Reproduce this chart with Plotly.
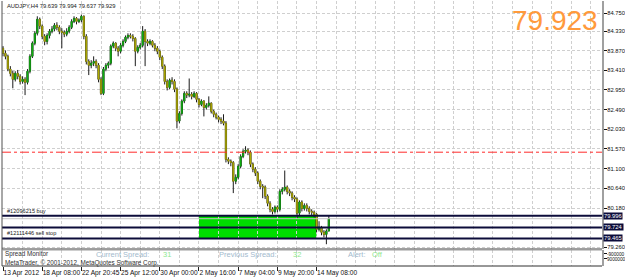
import plotly.graph_objects as go

# ---------------- data ----------------
opens = [83.93, 83.81, 83.74, 83.44, 83.34, 83.20, 83.34, 83.27, 83.15, 83.20,
         83.13, 83.39, 83.74, 84.05, 84.28, 84.61, 84.45, 84.21, 84.09, 84.23,
         84.33, 84.38, 84.47, 84.42, 84.33, 84.30, 84.26, 84.33, 84.42, 84.56,
         84.63, 84.56, 84.59, 84.68, 84.21, 83.62, 83.53, 83.58, 83.62, 83.53,
         83.20, 82.87, 83.44, 83.53, 83.58, 83.98, 84.05, 83.93, 83.86, 84.00,
         84.09, 84.19, 84.23, 84.21, 84.16, 83.86, 83.95, 84.00, 84.33, 84.09,
         84.05, 84.09, 84.00, 83.93, 83.86, 83.72, 83.51, 83.15, 83.01, 83.18,
         83.15, 82.97, 82.22, 82.40, 82.69, 82.87, 82.83, 82.85, 82.80, 82.87,
         82.73, 82.61, 82.69, 82.54, 82.59, 82.64, 82.45, 82.38, 82.31, 82.26,
         82.22, 82.17, 81.32, 81.28, 81.25, 80.81, 80.90, 81.16, 81.39, 81.51,
         81.54, 81.49, 81.21, 81.09, 81.00, 80.81, 80.69, 80.67, 80.46, 80.29,
         80.15, 80.10, 80.20, 80.15, 80.57, 80.62, 80.67, 80.57, 80.53, 80.43,
         80.39, 80.06, 80.32, 80.17, 80.24, 80.17, 80.10, 80.08, 80.03, 79.68,
         79.73, 79.61, 79.56, 79.639]
highs = [83.98, 83.88, 83.78, 83.51, 83.40, 83.39, 83.42, 83.32, 83.27, 83.25,
         83.44, 83.79, 84.09, 84.33, 84.68, 84.65, 84.49, 84.26, 84.28, 84.38,
         84.45, 84.52, 84.54, 84.47, 84.40, 84.35, 84.40, 84.47, 84.61, 84.68,
         84.66, 84.63, 84.72, 84.70, 84.26, 83.67, 83.65, 83.74, 83.67, 83.58,
         83.25, 83.49, 83.58, 83.62, 84.02, 84.09, 84.07, 83.98, 84.05, 84.14,
         84.23, 84.28, 84.28, 84.26, 84.19, 84.00, 84.05, 84.45, 84.38, 84.14,
         84.14, 84.12, 84.05, 83.98, 83.90, 83.76, 83.55, 83.20, 83.22, 83.25,
         83.20, 83.01, 82.45, 82.73, 82.92, 82.92, 83.22, 82.90, 82.92, 82.90,
         82.76, 82.73, 82.71, 82.64, 82.80, 82.66, 82.49, 82.42, 82.35, 82.31,
         82.38, 82.22, 81.37, 81.32, 81.28, 80.97, 81.21, 81.44, 81.56, 81.63,
         81.58, 81.53, 81.25, 81.14, 81.04, 80.85, 80.74, 80.71, 80.50, 80.34,
         80.20, 80.24, 80.24, 80.62, 80.67, 81.06, 80.71, 80.62, 80.57, 80.48,
         80.43, 80.36, 80.36, 80.29, 80.29, 80.22, 80.15, 80.12, 80.06, 79.87,
         79.76, 79.66, 79.68, 79.994]
lows = [83.74, 83.67, 83.39, 83.27, 82.99, 83.15, 83.20, 83.08, 83.10, 82.83,
        83.08, 83.34, 83.70, 84.00, 84.23, 84.38, 84.14, 84.00, 84.02, 84.16,
        84.28, 84.33, 84.35, 84.26, 83.93, 84.19, 84.21, 84.28, 84.38, 84.52,
        84.49, 84.52, 84.54, 84.14, 83.55, 83.30, 83.46, 83.51, 83.46, 83.13,
        82.83, 82.83, 83.39, 83.46, 83.53, 83.93, 83.86, 83.74, 83.81, 83.95,
        84.05, 84.14, 84.16, 84.09, 83.51, 83.81, 83.90, 83.95, 83.51, 83.98,
        84.00, 83.95, 83.86, 83.79, 83.65, 83.44, 83.08, 82.94, 82.97, 83.08,
        82.90, 82.05, 82.17, 82.35, 82.64, 82.76, 82.78, 82.73, 82.76, 82.66,
        82.54, 82.57, 82.33, 82.49, 82.54, 82.40, 82.31, 82.26, 82.19, 82.15,
        82.12, 81.25, 81.21, 81.16, 80.53, 80.74, 80.85, 81.11, 81.35, 81.46,
        81.42, 81.14, 81.02, 80.93, 80.74, 80.62, 80.41, 80.39, 80.22, 80.08,
        80.03, 80.05, 80.08, 80.10, 80.50, 80.57, 80.50, 80.46, 80.36, 80.32,
        79.94, 80.01, 80.10, 80.12, 80.10, 80.03, 80.01, 79.96, 79.61, 79.63,
        79.54, 79.49, 79.33, 79.637]
closes = [83.81, 83.74, 83.44, 83.34, 83.20, 83.34, 83.27, 83.15, 83.20, 83.13,
          83.39, 83.74, 84.05, 84.28, 84.61, 84.45, 84.21, 84.09, 84.23, 84.33,
          84.38, 84.47, 84.42, 84.33, 84.30, 84.26, 84.33, 84.42, 84.56, 84.63,
          84.56, 84.59, 84.68, 84.21, 83.62, 83.53, 83.58, 83.62, 83.53, 83.20,
          82.87, 83.44, 83.53, 83.58, 83.98, 84.05, 83.93, 83.86, 84.00, 84.09,
          84.19, 84.23, 84.21, 84.16, 83.86, 83.95, 84.00, 84.33, 84.09, 84.05,
          84.09, 84.00, 83.93, 83.86, 83.72, 83.51, 83.15, 83.01, 83.18, 83.15,
          82.97, 82.22, 82.40, 82.69, 82.87, 82.83, 82.85, 82.80, 82.87, 82.73,
          82.61, 82.69, 82.54, 82.59, 82.64, 82.45, 82.38, 82.31, 82.26, 82.22,
          82.17, 81.32, 81.28, 81.25, 80.81, 80.90, 81.16, 81.39, 81.51, 81.54,
          81.49, 81.21, 81.09, 81.00, 80.81, 80.69, 80.67, 80.46, 80.29, 80.15,
          80.10, 80.20, 80.15, 80.57, 80.62, 80.67, 80.57, 80.53, 80.43, 80.39,
          80.06, 80.32, 80.17, 80.24, 80.17, 80.10, 80.08, 80.03, 79.68, 79.73,
          79.61, 79.56, 79.639, 79.929]

time_tick_bars = [0, 16, 32, 48, 64, 80, 96, 112, 128]
time_tick_labels = ["13 Apr 2012", "18 Apr 08:00", "22 Apr 20:45", "25 Apr 12:00",
                    "30 Apr 00:00", "2 May 16:00", "7 May 04:00", "9 May 20:00",
                    "14 May 08:00"]
price_tick_vals = [84.75, 84.33, 83.87, 83.41, 82.95, 82.49, 82.03, 81.57,
                   81.10, 80.64, 80.18, 79.26]
price_tick_labels = ["84.750", "84.330", "83.870", "83.410", "82.950", "82.490",
                     "82.030", "81.570", "81.100", "80.640", "80.180", "79.260"]
order_levels = [79.996, 79.724, 79.465]
order_level_labels = ["79.996", "79.724", "79.465"]
order_names = ["#12096215 buy", "", "#12111446 sell stop"]
bid_price = 79.929
red_level = 81.49
zone_bars = [80, 128]
zone_prices = [79.465, 79.996]
header_text = "AUDJPY,H4 79.639 79.994 79.637 79.929"
big_price = "79.923"
spread_current = "31"
spread_previous = "32"
alert_state = "Off"
ind_tick_vals = [0.75, 0.44]
ind_tick_labels = ["-900000", "9000000"]

# ---------------- styling ----------------
FONT = "Liberation Sans, Arial"
GRID = "#CFCFCF"
NAVY = "#0C0C3A"
BULL = "#10B010"
BEAR = "#B0AC00"
WICK = "#1A1A1A"

idx = list(range(len(closes)))
body_hi = [max(o, c) for o, c in zip(opens, closes)]
body_lo = [min(o, c) for o, c in zip(opens, closes)]

fig = go.Figure()
fig.add_trace(go.Candlestick(
    x=idx, open=opens, high=highs, low=lows, close=closes,
    xaxis="x2", yaxis="y", whiskerwidth=0,
    increasing=dict(line=dict(color=WICK, width=1), fillcolor=WICK),
    decreasing=dict(line=dict(color=WICK, width=1), fillcolor=WICK),
    showlegend=False, hoverinfo="skip"))
fig.add_trace(go.Candlestick(
    x=idx, open=opens, high=body_hi, low=body_lo, close=closes,
    xaxis="x2", yaxis="y", whiskerwidth=0,
    increasing=dict(line=dict(color=BULL, width=0.5), fillcolor=BULL),
    decreasing=dict(line=dict(color=BEAR, width=0.5), fillcolor=BEAR),
    showlegend=False, hoverinfo="skip"))
# invisible anchor trace for the indicator sub-window
fig.add_trace(go.Scatter(x=[idx[0]], y=[ind_tick_vals[0]], xaxis="x", yaxis="y2",
                         mode="markers", marker=dict(opacity=0), showlegend=False,
                         hoverinfo="skip"))

XR = [-0.41, 244.5]
grid_minor = dict(tick0=0, dtick=8, showgrid=True, gridcolor=GRID, griddash="3px,2px",
                  gridwidth=1, ticks="")

fig.update_layout(
    width=625, height=277, autosize=False,
    margin=dict(l=2, r=23, t=0, b=10),
    paper_bgcolor="white", plot_bgcolor="white", showlegend=False,
    xaxis=dict(domain=[0, 1], anchor="y2", range=XR, tickmode="array",
               tickvals=time_tick_bars, ticktext=time_tick_labels, tickangle=0,
               ticks="outside", ticklen=4, tickcolor="#202020", tickwidth=1,
               ticklabelposition="outside right", automargin=False,
               tickfont=dict(family=FONT, size=6.6, color="#101010"),
               showgrid=True, gridcolor=GRID, griddash="3px,2px", gridwidth=1,
               minor=grid_minor, zeroline=False, showline=False,
               rangeslider=dict(visible=False), fixedrange=True),
    xaxis2=dict(domain=[0, 1], anchor="y", range=XR, matches="x",
                showticklabels=False, ticks="", automargin=False,
                showgrid=True, gridcolor=GRID, griddash="3px,2px", gridwidth=1,
                tickmode="array", tickvals=time_tick_bars,
                minor=grid_minor, zeroline=False, showline=False,
                rangeslider=dict(visible=False)),
    yaxis=dict(domain=[0.0674, 0.9963], anchor="x2", side="right",
               range=[79.218, 85.039], tickmode="array", automargin=False,
               tickvals=price_tick_vals, ticktext=price_tick_labels,
               ticks="outside", ticklen=3, tickcolor="#101010",
               ticklabelstandoff=-1,
               tickfont=dict(family=FONT, size=5.8, color="#101010"),
               showgrid=True, gridcolor=GRID, griddash="3px,2px", gridwidth=1,
               zeroline=False, showline=True, linecolor="#A0A0A0", linewidth=2),
    yaxis2=dict(domain=[0.0037, 0.0637], anchor="x", side="right", range=[0, 1],
                tickmode="array", tickvals=ind_tick_vals, ticktext=ind_tick_labels,
                ticks="outside", ticklen=3, tickcolor="#101010", automargin=False,
                ticklabelstandoff=-1,
                tickfont=dict(family=FONT, size=4.7, color="#101010"),
                showgrid=False, zeroline=False, showline=True,
                linecolor="#A0A0A0", linewidth=2),
)

shapes = []
# green zone
shapes.append(dict(type="rect", xref="x2", yref="y", x0=zone_bars[0], x1=zone_bars[1],
                   y0=zone_prices[0], y1=zone_prices[1], fillcolor="#00DD00",
                   line=dict(width=0), layer="below"))
# red dash-dot level
shapes.append(dict(type="line", xref="paper", yref="y", x0=0, x1=1,
                   y0=red_level, y1=red_level,
                   line=dict(color="#FF2A2A", width=1, dash="dashdot")))
# bid line
shapes.append(dict(type="line", xref="paper", yref="y", x0=0, x1=1,
                   y0=bid_price, y1=bid_price, line=dict(color="#C4C4C4", width=1)))
# order lines
for lv in order_levels:
    shapes.append(dict(type="line", xref="paper", yref="y", x0=0, x1=1, y0=lv, y1=lv,
                       line=dict(color=NAVY, width=2)))
# window borders
shapes.append(dict(type="line", xref="paper", yref="paper", x0=0, x1=0,
                   y0=0.0037, y1=0.9963, line=dict(color="#505050", width=1)))
shapes.append(dict(type="line", xref="paper", yref="paper", x0=0, x1=1,
                   y0=0.0674, y1=0.0674, line=dict(color="#404040", width=1)))
shapes.append(dict(type="line", xref="paper", yref="paper", x0=0, x1=1,
                   y0=0.0637, y1=0.0637, line=dict(color="#9A9A9A", width=1)))
shapes.append(dict(type="line", xref="paper", yref="paper", x0=0, x1=1,
                   y0=0.0037, y1=0.0037, line=dict(color="#303030", width=1)))
fig.update_layout(shapes=shapes)

ann = []
ann.append(dict(text=header_text, xref="paper", yref="paper", x=0.005, y=0.9757,
                xanchor="left", yanchor="middle", showarrow=False,
                font=dict(family=FONT, size=5.8, color="#202020")))
ann.append(dict(text=big_price, xref="paper", yref="paper", x=0.997, y=0.925,
                xanchor="right", yanchor="middle", showarrow=False,
                font=dict(family=FONT, size=28, color="#FF9A3C")))
for lv, lab, nm in zip(order_levels, order_level_labels, order_names):
    ann.append(dict(text=lab, xref="paper", yref="y", x=1.0, y=lv, xanchor="left",
                    yanchor="middle", xshift=1, showarrow=False, bgcolor=NAVY,
                    borderpad=0, font=dict(family=FONT, size=5.8, color="white")))
    if nm:
        ann.append(dict(text=nm, xref="paper", yref="y", x=0.005, y=lv,
                        xanchor="left", yanchor="bottom", yshift=0, showarrow=False,
                        font=dict(family=FONT, size=5.6, color="#202020")))

def px2x(px):
    return (px - 2) / 600.0

def py2y(py):
    return (267 - py) / 267.0

sub = [
    ("Spread Monitor", 3, 253.5, 6.3, "#303030"),
    ("MetaTrader, \u00a9 2001-2012, MetaQuotes Software Corp.", 3, 263, 6.3, "#303030"),
    ("Current Spread:", 94, 254.3, 7.5, "#A3BACD"),
    (spread_current, 161, 254.3, 7.5, "#8EE88E"),
    ("Previous Spread:", 217, 254.3, 7.5, "#A3BACD"),
    (spread_previous, 291, 254.3, 7.5, "#8EE88E"),
    ("Alert:", 346, 254.3, 7.5, "#A3BACD"),
    (alert_state, 370, 254.3, 7.5, "#8EE88E"),
]
for t, px, py, fs, col in sub:
    ann.append(dict(text=t, xref="paper", yref="paper", x=px2x(px), y=py2y(py),
                    xanchor="left", yanchor="middle", showarrow=False,
                    font=dict(family=FONT, size=fs, color=col)))
fig.update_layout(annotations=ann)

fig.write_html("out.html")
